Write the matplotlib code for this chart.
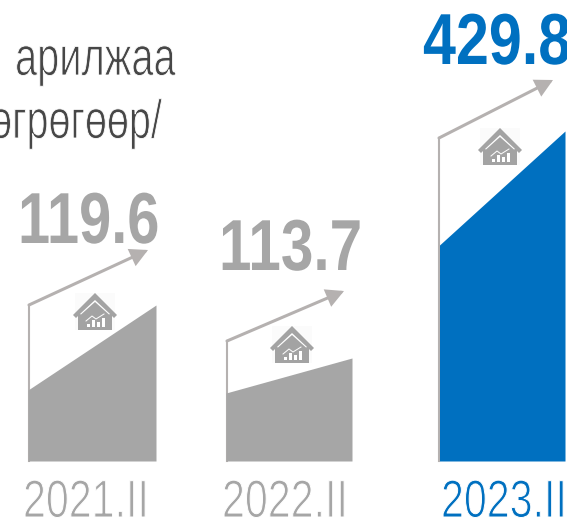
import matplotlib
matplotlib.use('Agg')
import matplotlib.pyplot as plt
from matplotlib.patches import Polygon, Rectangle
from matplotlib.patheffects import AbstractPathEffect
from matplotlib.transforms import Affine2D

periods = ['2021.II', '2022.II', '2023.II']
values = ['119.6', '113.7', '429.8']
fill_start = [71, 68, 216]
fill_end = [156, 103, 330]
frame_height = [156, 120, 323]
arrow_height = [211, 170, 381]

GREY = '#a6a6a6'
BLUE = '#0070c0'
LINE = '#b5b1b0'
FONT = ['Liberation Sans', 'DejaVu Sans']

base = 461
left = [28, 226, 438]
fill_left = [28, 226, 439.5]
right = [156, 352, 565]
arrow_tip = [148, 344, 553]
icon_x = [95, 292, 500]
icon_y = [330, 363, 165]
value_x = [18, 219, 423]
value_y = [243, 270, 64]
value_sx = [0.80, 0.81, 0.82]
label_x = [23, 222, 441]
colors = [GREY, GREY, BLUE]


class Squeeze(AbstractPathEffect):
    # no condensed font here, so narrow the glyphs about the text's left edge
    def __init__(self, x0, sx, thin=0):
        super().__init__()
        self.x0, self.sx, self.thin = x0, sx, thin

    def draw_path(self, renderer, gc, tpath, affine, rgbFace=None):
        t = affine + Affine2D().translate(-self.x0, 0).scale(self.sx, 1).translate(self.x0, 0)
        renderer.draw_path(gc, tpath, t, rgbFace)
        if self.thin:
            gc2 = renderer.new_gc()
            gc2.copy_properties(gc)
            gc2.set_foreground('white')
            gc2.set_linewidth(self.thin)
            renderer.draw_path(gc2, tpath, t, None)
            gc2.restore()


def house(ax, cx, by):
    # small house icon, cx = centre, by = bottom
    c = '#a3a3a3'
    ax.add_patch(Rectangle((cx - 20, by - 37), 40, 37, fc='#fbfbfb', ec='none', zorder=3))
    ax.add_patch(Polygon([(cx - 22, by - 15), (cx, by - 37), (cx + 22, by - 15), (cx + 19, by - 12),
                          (cx + 17, by - 14), (cx + 17, by), (cx - 17, by), (cx - 17, by - 14), (cx - 19, by - 12)],
                         fc=c, ec='none', zorder=4))
    ax.add_patch(Polygon([(cx, by - 30), (cx + 15, by - 16), (cx + 14, by - 15.5), (cx, by - 28), (cx - 14, by - 15.5),
                          (cx - 15, by - 16)], fc='white', ec='none', zorder=5))
    for dx, h in [(-8, 3), (-3, 7), (2, 5), (7, 9)]:
        ax.add_patch(Rectangle((cx + dx, by - 3 - h), 3, h, fc='white', ec='none', zorder=5))
    ax.plot([cx - 9, cx - 3, cx + 1, cx + 9], [by - 9, by - 14, by - 11, by - 16], color='white', lw=0.7, zorder=5)


fig = plt.figure(figsize=(5.67, 5.18), dpi=100)
ax = fig.add_axes([0, 0, 1, 1])
ax.set_xlim(0, 567)
ax.set_ylim(518, 0)
ax.axis('off')

for i in range(3):
    ax.fill_between([fill_left[i], right[i]], [base - fill_start[i], base - fill_end[i]], base,
                    color=colors[i], lw=0, zorder=2)
    fx = left[i] + 1
    ax.plot([fx, fx], [base, base - frame_height[i]], color=LINE, lw=1.5, zorder=1)
    ax.annotate('', xy=(arrow_tip[i], base - arrow_height[i]), xytext=(fx, base - frame_height[i]),
                arrowprops=dict(arrowstyle='-|>,head_length=0.95,head_width=0.5', color=LINE, lw=2.2,
                                shrinkA=0, shrinkB=0, joinstyle='miter'))
    house(ax, icon_x[i], icon_y[i])
    ax.text(value_x[i], value_y[i], values[i], color=colors[i], fontsize=52, fontweight='bold',
            family=FONT, ha='left', va='baseline',
            path_effects=[Squeeze(value_x[i], value_sx[i])])
    ax.text(label_x[i], 517, periods[i], color=colors[i], fontsize=38, family=FONT,
            ha='left', va='baseline', path_effects=[Squeeze(label_x[i], 0.78, thin=0.7)])

ax.text(15, 75, 'арилжаа', color='#474747', fontsize=39, family=FONT, ha='left', va='baseline',
        path_effects=[Squeeze(15, 0.735, thin=0.6)])
ax.text(-28, 138, 'төгрөгөөр/', color='#474747', fontsize=39, family=FONT, ha='left', va='baseline',
        path_effects=[Squeeze(-28, 0.73, thin=0.6)])

fig.savefig('out.png', dpi=100)
